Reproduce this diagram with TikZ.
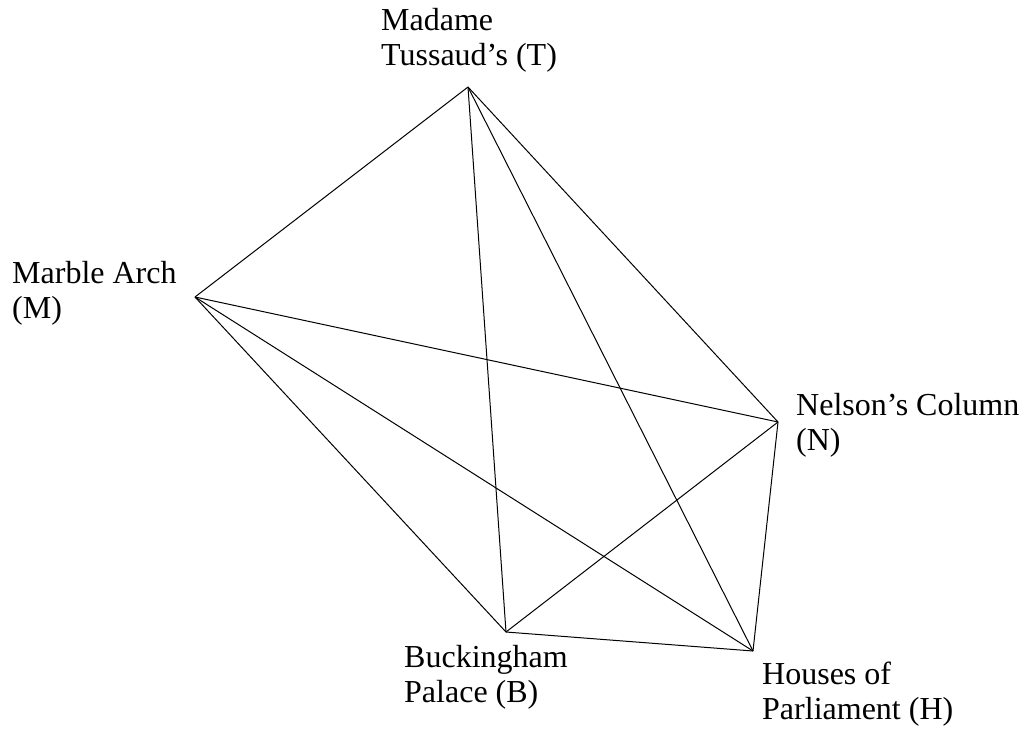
\documentclass[tikz,border=0pt]{standalone}
\usepackage{fontspec}
\setmainfont{Liberation Serif}
\begin{document}
\begin{tikzpicture}[x=1pt,y=-1pt,
  edge/.style={draw=black,line width=1pt},
  lbl/.style={anchor=base west,inner sep=0pt,align=left,font=\fontsize{32}{34.5}\selectfont}]
\useasboundingbox (0,0) rectangle (1029,729);
\coordinate (T) at (468,87);
\coordinate (M) at (195,297);
\coordinate (N) at (778,422);
\coordinate (B) at (506,632);
\coordinate (H) at (753,651);
\foreach \a/\b in {T/M,T/N,T/B,T/H,M/N,M/B,M/H,N/B,N/H,B/H}
  \draw[edge] (\a) -- (\b);
\node[lbl] (lT) at (381,65) {Madame\\Tussaud’s (T)};
\node[lbl] (lM) at (12,318) {Marble Arch\\(M)};
\node[lbl] (lN) at (796,450) {Nelson’s Column\\(N)};
\node[lbl] (lB) at (404,702) {Buckingham\\Palace (B)};
\node[lbl] (lH) at (762,719) {Houses of\\Parliament (H)};
\end{tikzpicture}
\end{document}
